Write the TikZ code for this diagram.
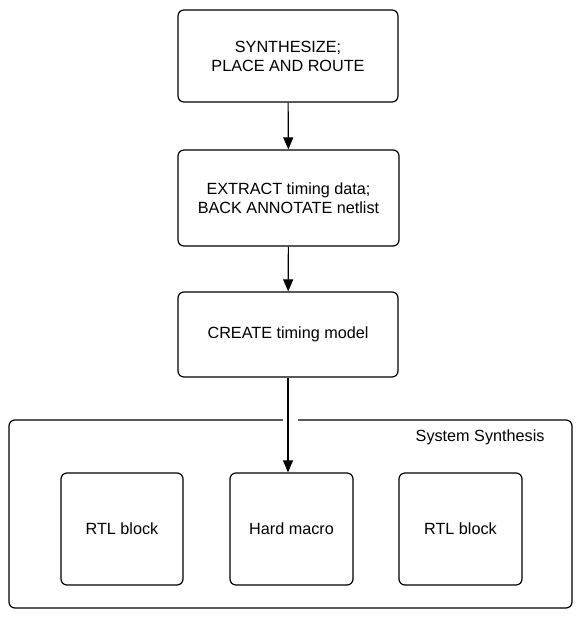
\documentclass[tikz,border=0pt]{standalone}
\usepackage{fontspec}
\setmainfont{Liberation Sans}
\usetikzlibrary{arrows.meta}
\begin{document}
\begin{tikzpicture}[x=1pt,y=-1pt,
  every node/.style={font=\fontsize{16.2}{19}\selectfont},
  stepbox/.style={draw,line width=1.2pt,rounded corners=6pt,align=center,inner sep=0pt},
  conn/.style={line width=1.1pt,-{Triangle[width=10pt,length=12pt]}}]
\useasboundingbox (0,0) rectangle (578,618);
\node[stepbox,minimum width=220pt,minimum height=92pt] (b1) at (288,56) {SYNTHESIZE;\\PLACE AND ROUTE};
\node[stepbox,minimum width=221pt,minimum height=96pt] (b2) at (288.5,198) {EXTRACT timing data;\\BACK ANNOTATE netlist};
\node[stepbox,minimum width=220pt,minimum height=85pt] (b3) at (288,334.5) {CREATE timing model};
\node[stepbox,minimum width=563pt,minimum height=188pt] (outer) at (290.5,514) {};
\node[anchor=east] (lbl) at (548,437) {System Synthesis};
\node[stepbox,minimum width=122pt,minimum height=112pt] (rtl1) at (122,529) {RTL block};
\node[stepbox,minimum width=123pt,minimum height=112pt] (hard) at (291.5,529) {Hard macro};
\node[stepbox,minimum width=123pt,minimum height=112pt] (rtl2) at (460.5,529) {RTL block};
\fill[white] (283,417) rectangle (298,423);
\draw[conn] (b1) -- (b2);
\draw[conn] (b2) -- (b3);
\draw[conn] (b3.south) -- (b3.south |- hard.north);
\end{tikzpicture}
\end{document}
